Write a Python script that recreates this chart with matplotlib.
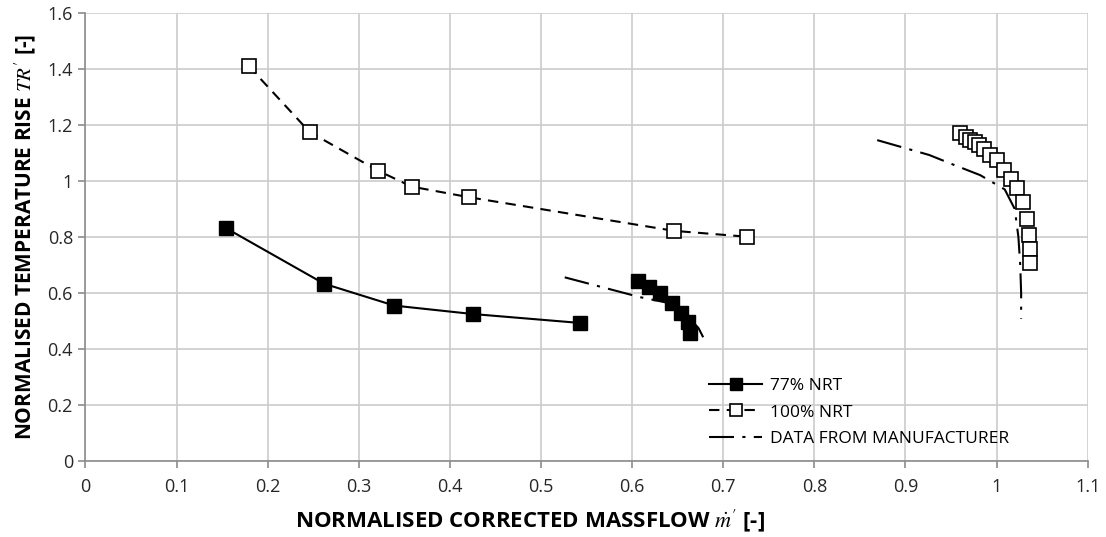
import matplotlib
matplotlib.use('Agg')
import numpy as np
import matplotlib.pyplot as plt
from matplotlib.ticker import FuncFormatter

plt.rcParams['font.family'] = ['Open Sans', 'DejaVu Sans']
plt.rcParams['mathtext.fontset'] = 'stix'

# 77% NRT (two measured runs, gap between them)
m77 = [0.154, 0.262, 0.339, 0.425, 0.543, np.nan,
       0.606, 0.619, 0.631, 0.644, 0.654, 0.661, 0.664]
tr77 = [0.832, 0.633, 0.555, 0.525, 0.493, np.nan,
        0.642, 0.620, 0.599, 0.563, 0.527, 0.495, 0.458]

# 100% NRT
m100 = [0.179, 0.246, 0.321, 0.358, 0.421, 0.646, 0.726, np.nan,
        0.960, 0.966, 0.971, 0.976, 0.981, 0.986, 0.993, 1.000, 1.008,
        1.016, 1.022, 1.029, 1.033, 1.036, 1.037, 1.037]
tr100 = [1.411, 1.175, 1.037, 0.980, 0.942, 0.822, 0.801, np.nan,
         1.170, 1.158, 1.148, 1.138, 1.127, 1.115, 1.093, 1.075, 1.039,
         1.006, 0.974, 0.924, 0.863, 0.807, 0.756, 0.706]

# manufacturer data
m_man = [0.526, 0.609, 0.642, 0.660, 0.673, 0.678, np.nan,
         0.869, 0.926, 0.949, 0.982, 1.009, 1.020, 1.024, 1.026, 1.027, 1.027]
tr_man = [0.656, 0.585, 0.563, 0.521, 0.474, 0.442, np.nan,
          1.146, 1.093, 1.063, 1.021, 0.970, 0.900, 0.800, 0.700, 0.600, 0.508]

fig = plt.figure(figsize=(11.06, 5.37), dpi=100)
ax = fig.add_axes([0.0773, 0.1415, 0.9061, 0.8343])

ax.plot(m_man, tr_man, color='black', lw=1.5, dashes=(12, 4, 1.5, 4),
        label='DATA FROM MANUFACTURER', zorder=2)
ax.plot(m100, tr100, color='black', lw=1.5, dashes=(5, 3.5), marker='s',
        markersize=10, markerfacecolor='white', markeredgecolor='black',
        markeredgewidth=1.2, label='100% NRT', zorder=3)
ax.plot(m77, tr77, color='black', lw=1.5, marker='s', markersize=10,
        markerfacecolor='black', markeredgecolor='black',
        label='77% NRT', zorder=4)

ax.set_xlim(0, 1.1)
ax.set_ylim(0, 1.6)
ax.set_xticks(np.arange(0, 1.101, 0.1))
ax.set_yticks(np.arange(0, 1.601, 0.2))
fmt = FuncFormatter(lambda v, p: '%g' % round(v, 2))
ax.xaxis.set_major_formatter(fmt)
ax.yaxis.set_major_formatter(fmt)
ax.grid(True, color='#cccccc', lw=1.2)
ax.set_axisbelow(True)
for s in ['top', 'right']:
    ax.spines[s].set_visible(False)
for s in ['left', 'bottom']:
    ax.spines[s].set_color('#8c8c8c')
    ax.spines[s].set_linewidth(1.2)
ax.tick_params(axis='both', colors='#8c8c8c', labelcolor='#262626',
               labelsize=13, length=5, width=1.2)
ax.tick_params(axis='x', pad=7)
ax.tick_params(axis='y', pad=4)

ax.set_xlabel("NORMALISED CORRECTED MASSFLOW $\\dot{m}'$ [-]",
              fontsize=16, fontweight='bold')
ax.xaxis.set_label_coords(0.4436, -0.105)
ax.set_ylabel("NORMALISED TEMPERATURE RISE $TR'$ [-]",
              fontsize=15, fontweight='bold')
ax.yaxis.set_label_coords(-0.047, 0.5)

h, l = ax.get_legend_handles_labels()
ax.legend(h[::-1], l[::-1], loc='upper left', bbox_to_anchor=(0.614, 0.205),
          frameon=False, fontsize=12.5, handlelength=3.0, labelspacing=0.6,
          borderpad=0.0, handletextpad=0.5, markerscale=0.8)

fig.savefig('out.png', dpi=100)
